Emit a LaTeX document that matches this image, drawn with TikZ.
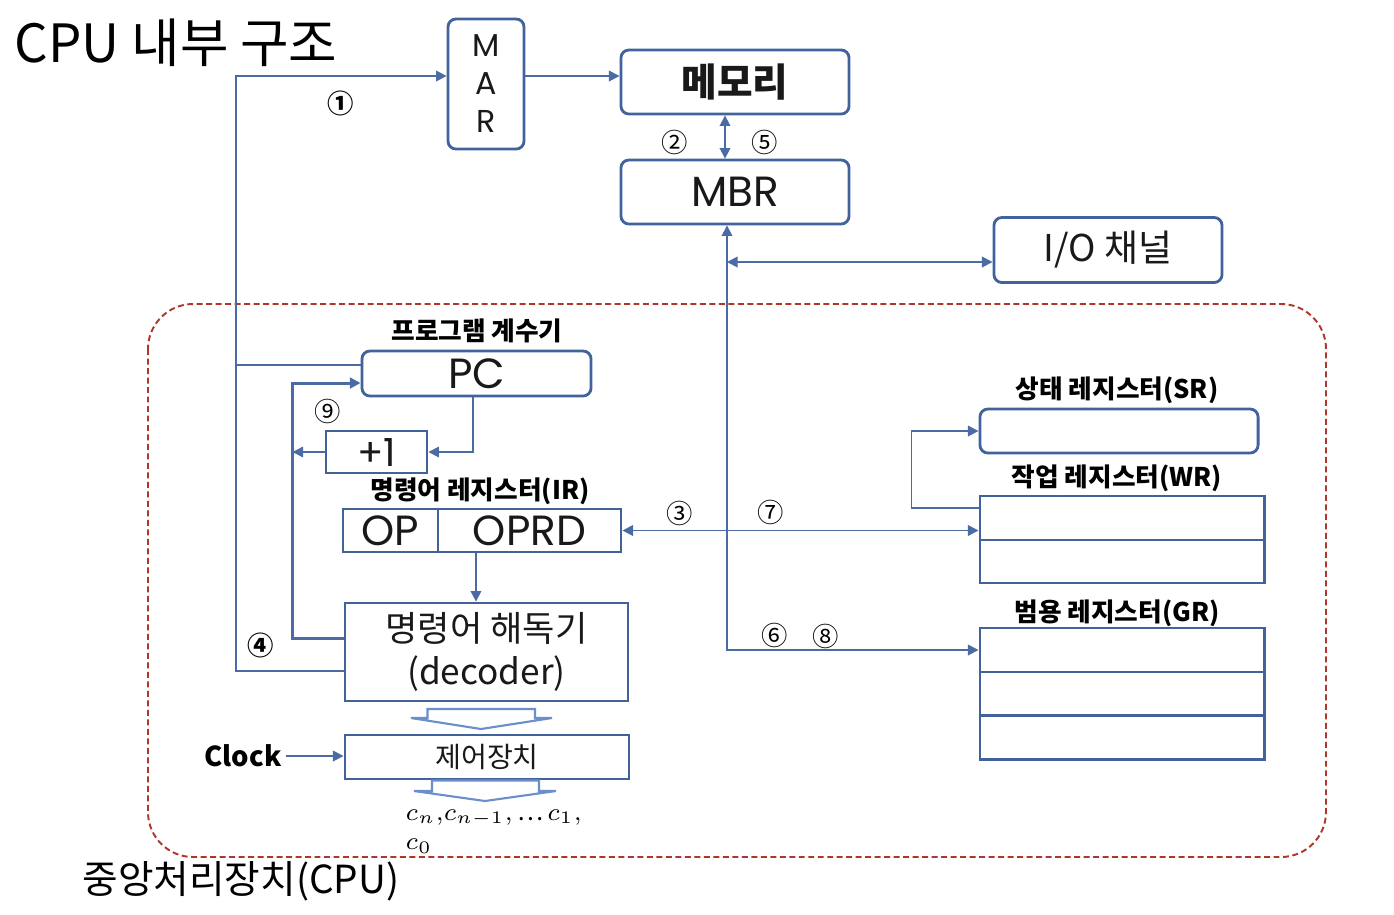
\documentclass[tikz,border=0pt]{standalone}
\usepackage{fontspec}
\setmainfont{Noto Sans CJK KR}
\newfontfamily\geofont{Poppins}
\usetikzlibrary{arrows.meta,positioning}

\definecolor{boxblue}{HTML}{41629B}
\definecolor{linkblue}{HTML}{4A6BA3}
\definecolor{hollowblue}{HTML}{6A8FCB}
\definecolor{cpured}{HTML}{B0362A}

\tikzset{
  box/.style={draw=boxblue, line width=0.8pt, inner sep=0pt, text=black!90},
  roundbox/.style={box, rounded corners=0.08cm},
  plain/.style={draw=linkblue, line width=0.5pt},
  conn/.style={plain, -{Triangle[length=3pt,width=3pt]}},
  dconn/.style={plain, {Triangle[length=3pt,width=3pt]}-{Triangle[length=3pt,width=3pt]}},
  fbline/.style={conn, line width=0.85pt},
  hollow/.style={draw=hollowblue, line width=0.6pt, fill=white},
  cpuframe/.style={draw=cpured, line width=0.55pt, dash pattern=on 1.7pt off 1pt, rounded corners=0.45cm},
  numtag/.style={font=\fontsize{7.5}{8}\selectfont, inner sep=0pt},
  lbl/.style={font=\bfseries\fontsize{7.3}{9}\selectfont, inner sep=0pt},
}

\begin{document}
\begin{tikzpicture}[x=0.01cm, y=-0.01cm]

    \fill[white] (0,0) rectangle (1394,914);
    \useasboundingbox (0,0) rectangle (1394,914);

    % CPU frame and titles
    \draw[cpuframe] (148,304) rectangle (1326,857);
    \node[font=\fontsize{15}{18}\selectfont, inner sep=0pt] (title) at (176,43) {CPU 내부 구조};
    \node[font=\fontsize{11}{13}\selectfont, inner sep=0pt] (cpulbl) at (241,881) {중앙처리장치(CPU)};

    % Memory side
    \node[roundbox, minimum width=0.76cm, minimum height=1.30cm, align=center,
          font=\geofont\fontsize{9}{10.8}\selectfont] (mar) at (486,84) {M\\A\\R};
    \node[roundbox, minimum width=2.28cm, minimum height=0.64cm,
          font=\bfseries\fontsize{11}{13}\selectfont] (mem) at (735,82) {메모리};
    \node[roundbox, minimum width=2.28cm, minimum height=0.64cm,
          font=\geofont\fontsize{12}{14}\selectfont] (mbr) at (735,192) {MBR};
    \node[roundbox, minimum width=2.28cm, minimum height=0.65cm,
          font=\fontsize{10.5}{12}\selectfont] (io) at (1108,250) {I/O 채널};

    % Control side
    \node[lbl] (pclbl) at (477,331) {프로그램 계수기};
    \node[roundbox, minimum width=2.29cm, minimum height=0.45cm,
          font=\geofont\fontsize{12}{14}\selectfont] (pc) at (476.5,373.5) {PC};
    \node[box, minimum width=1.01cm, minimum height=0.42cm,
          font=\geofont\fontsize{11}{13}\selectfont] (plus) at (376.5,452) {+1};
    \node[lbl] (irlbl) at (480,491) {명령어 레지스터(IR)};
    \node[box, minimum width=0.95cm, minimum height=0.43cm,
          font=\geofont\fontsize{12}{14}\selectfont] (op) at (390.5,530.5) {OP};
    \node[box, minimum width=1.83cm, minimum height=0.43cm,
          font=\geofont\fontsize{12}{14}\selectfont] (oprd) at (529.5,530.5) {OPRD};
    \node[box, minimum width=2.83cm, minimum height=0.98cm, align=center,
          font=\fontsize{10}{12.3}\selectfont] (dec) at (486.5,652) {명령어 해독기\\(decoder)};
    \node[box, minimum width=2.84cm, minimum height=0.44cm,
          font=\fontsize{8}{10}\selectfont] (ctrl) at (487,757) {제어장치};
    \node[font=\bfseries\fontsize{7.8}{9}\selectfont, inner sep=1pt] (clk) at (243,756) {Clock};
    \node[font=\fontsize{7}{8}\selectfont, inner sep=0pt, anchor=west] (sig) at (405,818)
        {$c_n{,}c_{n-1}{,}$\,…\,$c_1{,}$};
    \node[font=\fontsize{7}{8}\selectfont, inner sep=0pt, anchor=west] (sig0) at (405,846) {$c_0$};

    % hollow arrows
    \draw[hollow] (427.5,709) -- (427.5,718) -- (411,718) -- (481,729) -- (552,718) -- (535,718) -- (535,709) -- cycle;
    \draw[hollow] (432,780.5) -- (432,791) -- (414,791) -- (485,801) -- (556,791) -- (539,791) -- (539,780.5) -- cycle;

    % Registers
    \node[lbl] (srlbl) at (1117,390) {상태 레지스터(SR)};
    \node[roundbox, minimum width=2.78cm, minimum height=0.44cm] (sr) at (1119,431) {};
    \node[lbl] (wrlbl) at (1117,478) {작업 레지스터(WR)};
    \node[box, minimum width=2.84cm, minimum height=0.44cm] (wr1) at (1122,518) {};
    \node[box, minimum width=2.84cm, minimum height=0.43cm] (wr2) at (1122,561.5) {};
    \node[lbl] (grlbl) at (1117,613) {범용 레지스터(GR)};
    \foreach \i/\yy in {1/650,2/694,3/737.5}
        \node[box, minimum width=2.84cm, minimum height=0.44cm] (gr\i) at (1122,\yy) {};

    % Connectors
    \coordinate (busTop) at (236,76);
    \coordinate (busBot) at (236,671);
    \coordinate (busPC) at (236,365);
    \draw[conn] (dec.west |- busBot) -- (busBot) -- (busTop) -- (mar.west |- busTop);
    \draw[plain] (pc.west |- busPC) -- (busPC);
    \draw[conn] (mar.east |- busTop) -- (mem.west |- busTop);

    \coordinate (memX) at (725,0);
    \draw[dconn] (mem.south -| memX) -- (mbr.north -| memX);
    \coordinate (mbrBus) at (727,650);
    \coordinate (ioJoin) at (727,262);
    \draw[dconn] (mbr.south -| mbrBus) -- (mbrBus) -- (gr1.west |- mbrBus);
    \draw[dconn] (ioJoin) -- (io.west |- ioJoin);
    \draw[dconn] (oprd.east) -- (oprd.east -| wr1.west);
    \draw[conn] ([yshift=0.1cm]wr1.west) -| ([xshift=-0.67cm]sr.west) -- (sr.west);

    \draw[conn] ([xshift=-0.035cm]pc.south) |- (plus.east);
    \coordinate (pcIn) at ([yshift=-0.095cm]pc.west);
    \draw[fbline] ([yshift=0.14cm]dec.west) -| ([xshift=-0.68cm]pcIn) -- (pcIn);
    \draw[conn] (plus.west) -- ([xshift=-0.32cm]plus.west);
    \coordinate (irDown) at ([xshift=-0.535cm]oprd.south);
    \draw[conn] (irDown) -- (irDown |- dec.north);
    \draw[conn] (clk.east) -- (clk.east -| ctrl.west);

    % step numbers
    \node[numtag, font=\bfseries\fontsize{7.5}{8}\selectfont] (n1) at (341,103) {①};
    \node[numtag] (n2) at (675,142) {②};
    \node[numtag] (n5) at (765,142) {⑤};
    \node[numtag] (n3) at (680,513) {③};
    \node[numtag] (n7) at (771,512) {⑦};
    \node[numtag] (n6) at (775,635) {⑥};
    \node[numtag] (n8) at (826,636) {⑧};
    \node[numtag] (n9) at (328,411) {⑨};
    \node[numtag, font=\bfseries\fontsize{7.5}{8}\selectfont] (n4) at (261,645) {④};

\end{tikzpicture}
\end{document}
